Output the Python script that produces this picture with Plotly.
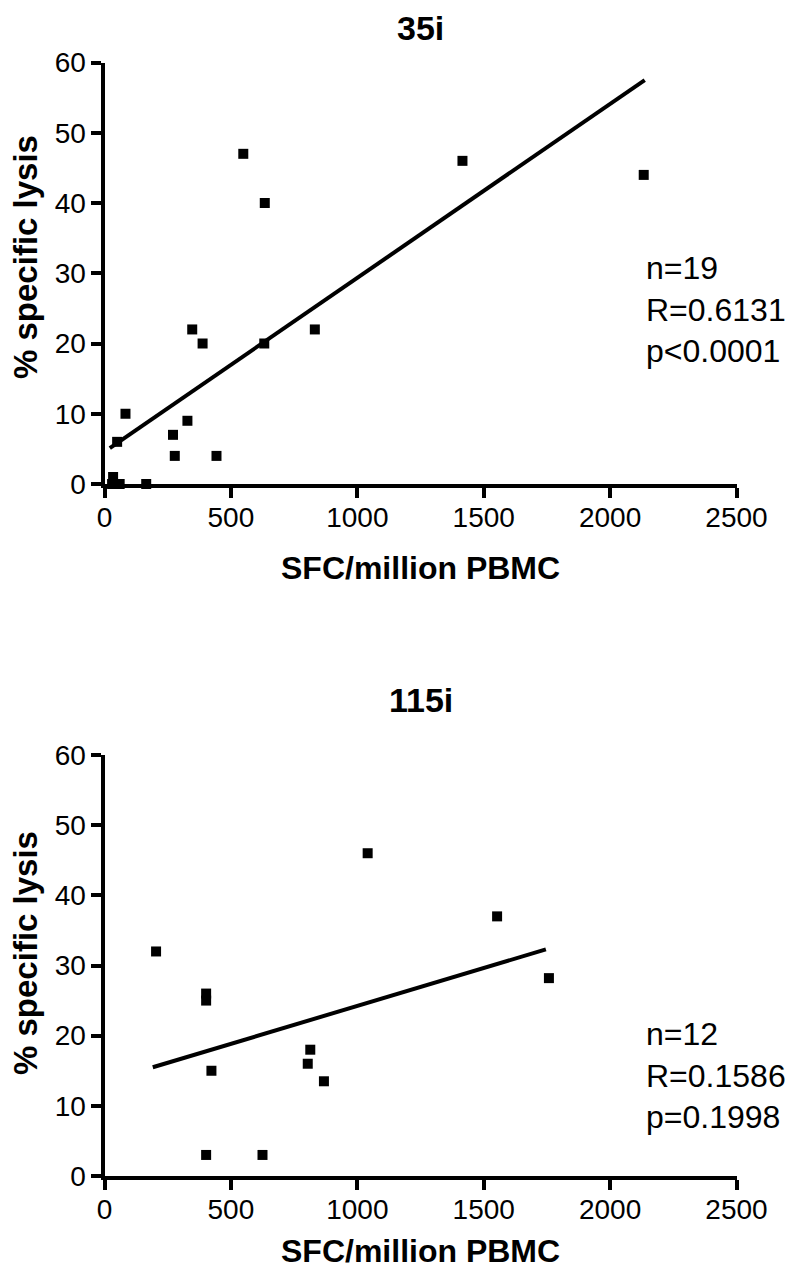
import plotly.graph_objects as go

# ---- data: 35i ----
sfc_35i = [2133, 1416, 549, 634, 832, 632, 347, 388, 83, 328, 271, 278, 443, 50, 34, 30, 50, 60, 165]
lysis_35i = [44, 46, 47, 40, 22, 20, 22, 20, 10, 9, 7, 4, 4, 6, 1, 0, 0, 0, 0]
fit_x_35i = [21, 2137]
fit_y_35i = [5.1, 57.5]
stats_35i = ["n=19", "R=0.6131", "p<0.0001"]

# ---- data: 115i ----
sfc_115i = [1041, 1553, 204, 1758, 402, 402, 423, 814, 804, 868, 402, 625]
lysis_115i = [46, 37, 32, 28.2, 26, 25, 15, 18, 16, 13.5, 3, 3]
fit_x_115i = [191, 1746]
fit_y_115i = [15.5, 32.3]
stats_115i = ["n=12", "R=0.1586", "p=0.1998"]

x_ticks = [0, 500, 1000, 1500, 2000, 2500]
y_ticks = [0, 10, 20, 30, 40, 50, 60]
x_title = "SFC/million PBMC"
y_title = "% specific lysis"
titles = ["35i", "115i"]

# the page body has an 8px margin; figure coordinates = page coordinates - OFF
OFF = 8
W, H = 784, 1263
FONT = "Liberation Sans, Arial, sans-serif"

def fx_(x):
    return (x - OFF) / W

def fy_(y):
    return 1 - (y - OFF) / H

fig = go.Figure()

panels = [
    (sfc_35i, lysis_35i, fit_x_35i, fit_y_35i, "x", "y"),
    (sfc_115i, lysis_115i, fit_x_115i, fit_y_115i, "x2", "y2"),
]
for sx, sy, lx, ly, xa, ya in panels:
    fig.add_trace(go.Scatter(x=lx, y=ly, mode="lines", xaxis=xa, yaxis=ya,
                             line=dict(color="black", width=4), showlegend=False,
                             cliponaxis=False))
    fig.add_trace(go.Scatter(x=sx, y=sy, mode="markers", xaxis=xa, yaxis=ya,
                             marker=dict(symbol="square", size=10, color="black"),
                             showlegend=False, cliponaxis=False))

# plot areas in page pixels
x_left, x_right = 104.5, 736.5
areas = [(62.5, 484), (755, 1176)]
xdom = [fx_(x_left), fx_(x_right)]

axis_common = dict(showline=True, linecolor="black", linewidth=4, ticks="outside",
                   ticklen=10, tickwidth=4, tickcolor="black", showgrid=False,
                   zeroline=False, tickfont=dict(family=FONT, size=28, color="black"))

fig.update_layout(
    width=W, height=H, margin=dict(l=0, r=0, t=0, b=0, pad=0, autoexpand=False),
    paper_bgcolor="white", plot_bgcolor="white",
    xaxis=dict(domain=xdom, range=[0, 2500], tickvals=x_ticks, anchor="y",
               ticklabelstandoff=-5, **axis_common),
    yaxis=dict(domain=[fy_(areas[0][1]), fy_(areas[0][0])], range=[0, 60], tickvals=y_ticks,
               anchor="x", ticklabelstandoff=-1, **axis_common),
    xaxis2=dict(domain=xdom, range=[0, 2500], tickvals=x_ticks, anchor="y2",
                ticklabelstandoff=-5, **axis_common),
    yaxis2=dict(domain=[fy_(areas[1][1]), fy_(areas[1][0])], range=[0, 60], tickvals=y_ticks,
                anchor="x2", ticklabelstandoff=-1, **axis_common),
)

cx = fx_((x_left + x_right) / 2)
ann = []
title_y = [28, 700]
xt_y = [568, 1251]
yt_y = [257, 953]
stats_y = [309, 1075]
for i in range(2):
    ann.append(dict(text="<b>%s</b>" % titles[i], x=cx, y=fy_(title_y[i]), xref="paper", yref="paper",
                    showarrow=False, xanchor="center", yanchor="middle", borderpad=0,
                    font=dict(family=FONT, size=34, color="black")))
    ann.append(dict(text="<b>%s</b>" % x_title, x=cx, y=fy_(xt_y[i]), xref="paper", yref="paper",
                    showarrow=False, xanchor="center", yanchor="middle", borderpad=0,
                    font=dict(family=FONT, size=32, color="black")))
    ann.append(dict(text="<b>%s</b>" % y_title, x=fx_(25), y=fy_(yt_y[i]), xref="paper", yref="paper",
                    showarrow=False, xanchor="center", yanchor="middle", textangle=-90,
                    font=dict(family=FONT, size=33, color="black")))
    st = stats_35i if i == 0 else stats_115i
    ann.append(dict(text="<br>".join(st), x=fx_(644), y=fy_(stats_y[i]), xref="paper", yref="paper",
                    showarrow=False, xanchor="left", yanchor="middle", align="left",
                    font=dict(family=FONT, size=32, color="black")))
fig.update_layout(annotations=ann)

fig.write_html("out.html")
